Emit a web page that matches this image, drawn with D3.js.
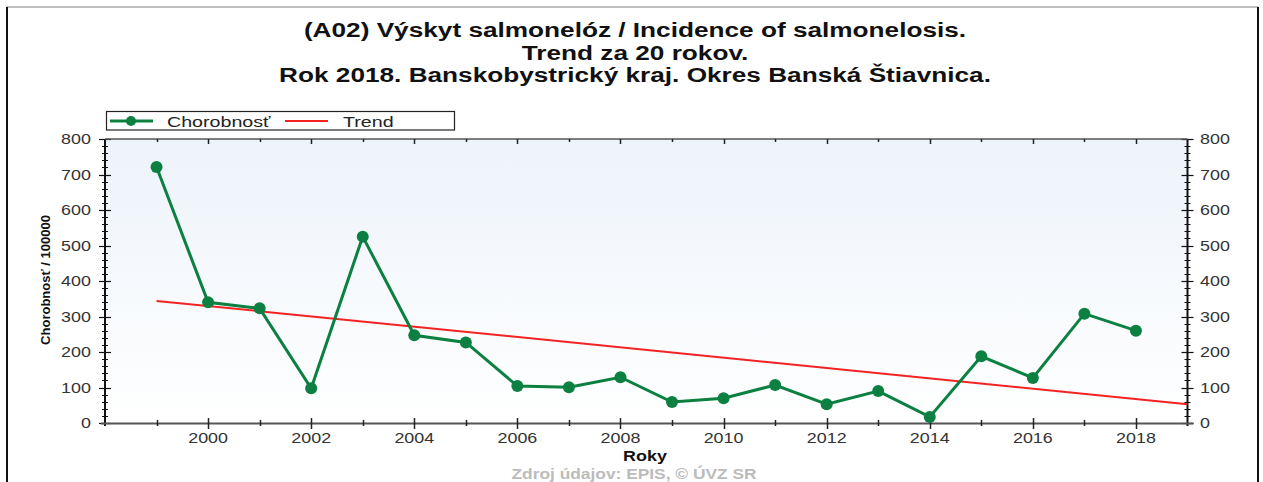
<!DOCTYPE html>
<html>
<head>
<meta charset="utf-8">
<script src="https://cdn.jsdelivr.net/npm/d3@7"></script>
<style>
  body { margin: 0; background: #fff; }
  svg { display: block; font-family: "Liberation Sans", Arial, sans-serif; }
</style>
</head>
<body>
<svg id="chart" width="1263" height="482"></svg>
<script>
// data
const years = [1999, 2000, 2001, 2002, 2003, 2004, 2005, 2006, 2007, 2008,
               2009, 2010, 2011, 2012, 2013, 2014, 2015, 2016, 2017, 2018];
const incidence = [721, 340, 323, 98, 525, 247, 227, 104, 101, 129,
                   59, 70, 107, 53, 90, 17, 188, 127, 308, 260];
const trendYears = [1999, 2019];
const trendValues = [344, 53];
const yTicks = [0, 100, 200, 300, 400, 500, 600, 700, 800];
const xTicks = [2000, 2002, 2004, 2006, 2008, 2010, 2012, 2014, 2016, 2018];
const titleLines = [
  "(A02) Výskyt salmonelóz / Incidence of salmonelosis.",
  "Trend za 20 rokov.",
  "Rok 2018. Banskobystrický kraj. Okres Banská Štiavnica."
];

const svg = d3.select("#chart");
const plotLeft = 105, plotRight = 1187.5, plotTop = 139, plotBottom = 423;
const green = "#0b8040", red = "#f52222";
// the original render is stretched sideways, so text gets a horizontal scale
const stretch = 1.28;

const x = d3.scaleLinear().domain([1998, 2019]).range([plotLeft, plotRight]);
const y = d3.scaleLinear().domain([0, 800]).range([plotBottom, plotTop]);

function place(px, py, sx) {
  return "translate(" + px + "," + py + ") scale(" + sx + ",1)";
}

// outer frame
svg.append("line").attr("x1", 7).attr("x2", 1258).attr("y1", 7).attr("y2", 7)
  .attr("stroke", "#aaa").attr("stroke-width", 1.5);
svg.append("line").attr("x1", 7).attr("x2", 7).attr("y1", 7).attr("y2", 482)
  .attr("stroke", "#111").attr("stroke-width", 2);
svg.append("line").attr("x1", 1258).attr("x2", 1258).attr("y1", 7).attr("y2", 482)
  .attr("stroke", "#111").attr("stroke-width", 2);

// title
svg.append("g").selectAll("text")
  .data(titleLines)
  .enter()
  .append("text")
  .attr("transform", function (d, i) { return place(635, 37 + i * 22.5, 1.31); })
  .attr("text-anchor", "middle")
  .style("font-size", "20px")
  .style("font-weight", "bold")
  .style("fill", "#111")
  .text(function (d) { return d; });

// plot background
const grad = svg.append("defs").append("linearGradient")
  .attr("id", "bg").attr("x1", 0).attr("x2", 0).attr("y1", 0).attr("y2", 1);
grad.append("stop").attr("offset", "0%").attr("stop-color", "#edf3fa");
grad.append("stop").attr("offset", "100%").attr("stop-color", "#ffffff");
svg.append("rect")
  .attr("x", plotLeft).attr("y", plotTop)
  .attr("width", plotRight - plotLeft).attr("height", plotBottom - plotTop)
  .attr("fill", "url(#bg)");

// legend
const legend = svg.append("g");
legend.append("rect")
  .attr("x", 106.5).attr("y", 111.5).attr("width", 348).attr("height", 18.5)
  .attr("fill", "#fff").attr("stroke", "#222").attr("stroke-width", 1.2);
legend.append("line").attr("x1", 110).attr("x2", 153).attr("y1", 121).attr("y2", 121)
  .attr("stroke", green).attr("stroke-width", 3);
legend.append("circle").attr("cx", 131).attr("cy", 121).attr("r", 5).attr("fill", green);
legend.append("text").attr("transform", place(167, 126.5, 1.31))
  .style("font-size", "15px").style("fill", "#222").text("Chorobnosť");
legend.append("line").attr("x1", 285).attr("x2", 328).attr("y1", 121).attr("y2", 121)
  .attr("stroke", red).attr("stroke-width", 2);
legend.append("text").attr("transform", place(343, 126.5, 1.31))
  .style("font-size", "15px").style("fill", "#222").text("Trend");

// y axes with minor ticks every 20
const yMinor = d3.range(0, 801, 20);
function yAxisTicks(x0) {
  const g = svg.append("g");
  g.selectAll("line.minor")
    .data(yMinor.filter(function (d) { return d % 100 !== 0; }))
    .enter().append("line")
    .attr("x1", x0 - 3).attr("x2", x0 + 3)
    .attr("y1", function (d) { return Math.round(y(d)) + 0.5; })
    .attr("y2", function (d) { return Math.round(y(d)) + 0.5; })
    .attr("stroke", "#111").attr("stroke-width", 1);
  g.selectAll("line.major")
    .data(yTicks)
    .enter().append("line")
    .attr("x1", x0 - 6).attr("x2", x0 + 6)
    .attr("y1", function (d) { return Math.round(y(d)) + 0.5; })
    .attr("y2", function (d) { return Math.round(y(d)) + 0.5; })
    .attr("stroke", "#111").attr("stroke-width", 1.2);
  g.append("line").attr("x1", x0).attr("x2", x0).attr("y1", plotTop).attr("y2", plotBottom + 3)
    .attr("stroke", "#111").attr("stroke-width", 2);
  return g;
}
yAxisTicks(plotLeft);
yAxisTicks(plotRight);

svg.append("g").selectAll("text")
  .data(yTicks).enter().append("text")
  .attr("transform", function (d) { return place(91, y(d) + 5, stretch); })
  .attr("text-anchor", "end")
  .style("font-size", "14px").style("fill", "#333")
  .text(function (d) { return d; });
svg.append("g").selectAll("text")
  .data(yTicks).enter().append("text")
  .attr("transform", function (d) { return place(1200, y(d) + 5, stretch); })
  .attr("text-anchor", "start")
  .style("font-size", "14px").style("fill", "#333")
  .text(function (d) { return d; });

// x axis (bottom) and top edge
const xMinor = d3.range(1999, 2019, 2);
svg.append("line").attr("x1", plotLeft - 4).attr("x2", plotRight + 6)
  .attr("y1", plotBottom + 0.5).attr("y2", plotBottom + 0.5)
  .attr("stroke", "#555").attr("stroke-width", 2);
svg.append("line").attr("x1", plotLeft).attr("x2", plotRight)
  .attr("y1", plotTop).attr("y2", plotTop)
  .attr("stroke", "#555").attr("stroke-width", 1.5);
svg.append("g").selectAll("line")
  .data(xTicks).enter().append("line")
  .attr("x1", function (d) { return Math.round(x(d)) + 0.5; })
  .attr("x2", function (d) { return Math.round(x(d)) + 0.5; })
  .attr("y1", plotBottom - 5).attr("y2", plotBottom + 6)
  .attr("stroke", "#222").attr("stroke-width", 1.5);
svg.append("g").selectAll("line")
  .data(xMinor).enter().append("line")
  .attr("x1", function (d) { return Math.round(x(d)) + 0.5; })
  .attr("x2", function (d) { return Math.round(x(d)) + 0.5; })
  .attr("y1", plotBottom - 3).attr("y2", plotBottom + 3)
  .attr("stroke", "#222").attr("stroke-width", 1.5);
svg.append("g").selectAll("line")
  .data(xTicks).enter().append("line")
  .attr("x1", function (d) { return Math.round(x(d)) + 0.5; })
  .attr("x2", function (d) { return Math.round(x(d)) + 0.5; })
  .attr("y1", plotTop).attr("y2", plotTop + 5)
  .attr("stroke", "#222").attr("stroke-width", 1.5);
svg.append("g").selectAll("line")
  .data(xMinor).enter().append("line")
  .attr("x1", function (d) { return Math.round(x(d)) + 0.5; })
  .attr("x2", function (d) { return Math.round(x(d)) + 0.5; })
  .attr("y1", plotTop).attr("y2", plotTop + 3)
  .attr("stroke", "#222").attr("stroke-width", 1.5);
svg.append("g").selectAll("text")
  .data(xTicks).enter().append("text")
  .attr("transform", function (d) { return place(x(d), 443, stretch); })
  .attr("text-anchor", "middle")
  .style("font-size", "14px").style("fill", "#333")
  .text(function (d) { return d; });

// axis titles
svg.append("text")
  .attr("transform", place(645, 461, stretch))
  .attr("text-anchor", "middle")
  .style("font-size", "14px").style("font-weight", "bold").style("fill", "#111")
  .text("Roky");
svg.append("text")
  .attr("transform", "translate(50,280) rotate(-90)")
  .attr("text-anchor", "middle")
  .style("font-size", "13px").style("font-weight", "bold").style("fill", "#111")
  .text("Chorobnosť / 100000");

// source
svg.append("text")
  .attr("transform", place(634, 479, 1.24))
  .attr("text-anchor", "middle")
  .style("font-size", "14px").style("font-weight", "bold").style("fill", "#bbb")
  .text("Zdroj údajov: EPIS, © ÚVZ SR");

// trend line
const lineGen = d3.line()
  .x(function (d) { return x(d[0]); })
  .y(function (d) { return y(d[1]); });
svg.append("path")
  .datum(d3.zip(trendYears, trendValues))
  .attr("d", lineGen)
  .attr("fill", "none").attr("stroke", red).attr("stroke-width", 2);

// incidence series
const pts = d3.zip(years, incidence);
svg.append("path")
  .datum(pts)
  .attr("d", lineGen)
  .attr("fill", "none").attr("stroke", green).attr("stroke-width", 3);
svg.append("g").selectAll("circle")
  .data(pts).enter().append("circle")
  .attr("cx", function (d) { return x(d[0]); })
  .attr("cy", function (d) { return y(d[1]); })
  .attr("r", 6)
  .attr("fill", green);
</script>
</body>
</html>
